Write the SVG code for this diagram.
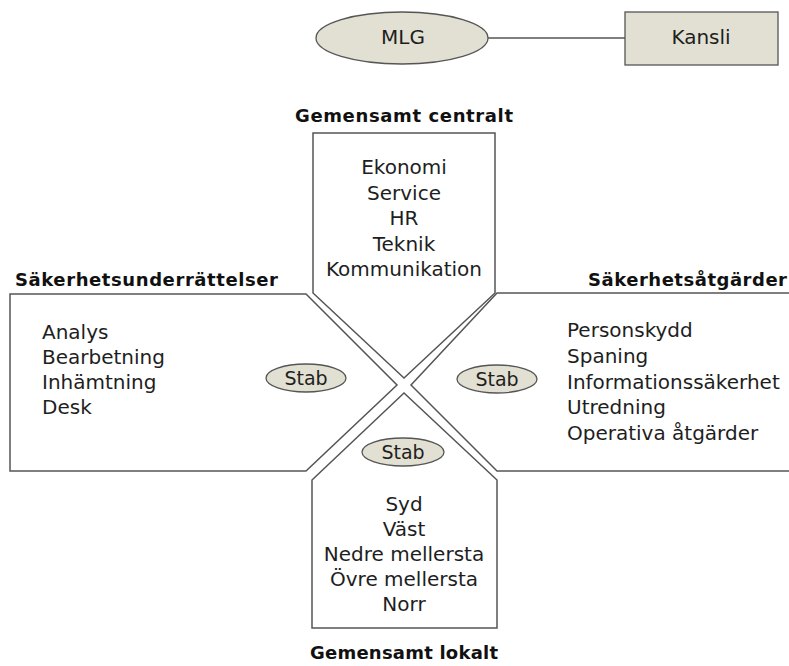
<svg xmlns="http://www.w3.org/2000/svg" width="789" height="666" viewBox="0 0 789 666">
<style>
  .shape { fill: #ffffff; stroke: #555555; stroke-width: 1.5; stroke-linejoin: miter; }
  .oval { fill: #e2e0d2; stroke: #555555; stroke-width: 1.3; }
  .item { font-family: "DejaVu Sans", "Liberation Sans", sans-serif; font-size: 20px; fill: #1e1e1e; }
  .mid { text-anchor: middle; }
  .title { font-family: "DejaVu Sans", "Liberation Sans", sans-serif; font-size: 18px; font-weight: bold; fill: #111111; }
  .stab { font-family: "DejaVu Sans", "Liberation Sans", sans-serif; font-size: 19px; fill: #1e1e1e; text-anchor: middle; }
</style>
<rect x="0" y="0" width="789" height="666" fill="#ffffff"/>

<g id="connectors">
  <line x1="488" y1="38" x2="625" y2="38" stroke="#555555" stroke-width="1.3"/>
</g>

<g id="mlg">
  <ellipse class="oval" cx="402" cy="38" rx="86" ry="26"/>
  <text class="item mid" x="403" y="44">MLG</text>
</g>

<g id="kansli">
  <rect class="oval" x="625" y="12" width="153" height="53"/>
  <text class="item mid" x="701" y="44">Kansli</text>
</g>

<g id="gemensamt-centralt">
  <path class="shape" d="M313,133 H495 V293 L404,378 L313,293 Z"/>
  <text class="title mid" x="404" y="122" textLength="218" lengthAdjust="spacing">Gemensamt centralt</text>
  <text class="item mid" x="404" y="174">Ekonomi</text>
  <text class="item mid" x="404" y="199.5">Service</text>
  <text class="item mid" x="404" y="225">HR</text>
  <text class="item mid" x="404" y="250.5">Teknik</text>
  <text class="item mid" x="404" y="276">Kommunikation</text>
</g>

<g id="sakerhetsunderrattelser">
  <path class="shape" d="M10,294 H306 L397,385 L306,471 H10 Z"/>
  <text class="title" x="15" y="286" textLength="263" lengthAdjust="spacing">Säkerhetsunderrättelser</text>
  <text class="item" x="42" y="339">Analys</text>
  <text class="item" x="42" y="364">Bearbetning</text>
  <text class="item" x="42" y="389">Inhämtning</text>
  <text class="item" x="42" y="414">Desk</text>
  <ellipse class="oval" cx="306" cy="378" rx="40" ry="14"/>
  <text class="stab" x="306" y="385">Stab</text>
</g>

<g id="sakerhetsatgarder">
  <path class="shape" d="M497,293 H795 V471 H497 L411,385 Z"/>
  <text class="title" x="588" y="286" textLength="199" lengthAdjust="spacing">Säkerhetsåtgärder</text>
  <text class="item" x="567" y="337">Personskydd</text>
  <text class="item" x="567" y="363">Spaning</text>
  <text class="item" x="567" y="389">Informationssäkerhet</text>
  <text class="item" x="567" y="414">Utredning</text>
  <text class="item" x="567" y="440">Operativa åtgärder</text>
  <ellipse class="oval" cx="497" cy="379" rx="40" ry="14"/>
  <text class="stab" x="497" y="386">Stab</text>
</g>

<g id="gemensamt-lokalt">
  <path class="shape" d="M312,480 L404,393 L497,480 V628 H312 Z"/>
  <ellipse class="oval" cx="403" cy="452" rx="41" ry="14"/>
  <text class="stab" x="403" y="459">Stab</text>
  <text class="item mid" x="404" y="511">Syd</text>
  <text class="item mid" x="404" y="536">Väst</text>
  <text class="item mid" x="404" y="561">Nedre mellersta</text>
  <text class="item mid" x="404" y="586">Övre mellersta</text>
  <text class="item mid" x="404" y="611">Norr</text>
  <text class="title mid" x="404" y="659" textLength="188" lengthAdjust="spacing">Gemensamt lokalt</text>
</g>
</svg>
